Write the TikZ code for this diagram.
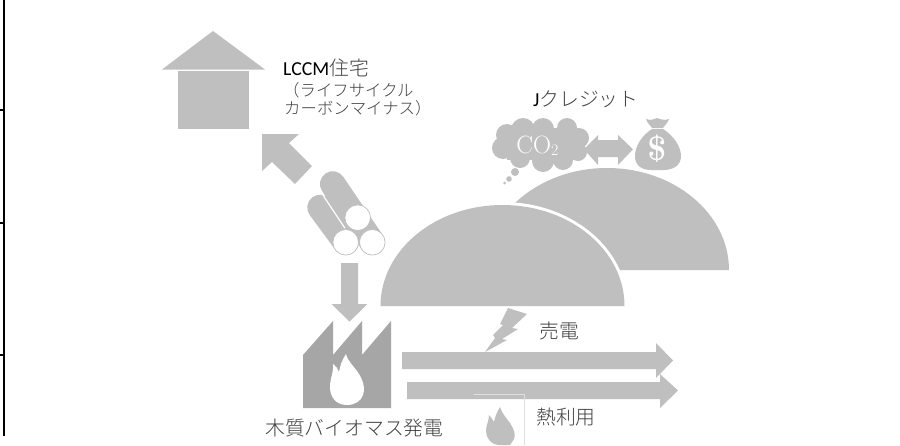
\documentclass[tikz,border=0pt]{standalone}
\usepackage{fontspec}
\setmainfont{Carlito}
\newfontfamily\cjk{Noto Sans CJK JP}[UprightFont=* Light]
\newfontfamily\lm{Latin Modern Roman}
\definecolor{gA}{HTML}{BFBFBF}
\definecolor{gD}{HTML}{A6A6A6}
\definecolor{tx}{HTML}{404040}
\tikzset{
  shp/.style={fill=gA,draw=none},
  lbl/.style={inner sep=0pt,text=tx,font=\cjk\fontsize{19.8}{22}\selectfont},
  lblsm/.style={inner sep=0pt,text=tx,font=\cjk\fontsize{16.4}{18}\selectfont},
  log/.style={line width=25.5pt,line cap=round,draw=gA}
}
\begin{document}
\begin{tikzpicture}[yscale=-1,x=1pt,y=1pt]
\useasboundingbox (0,0) rectangle (900,445);
\fill[white] (0,0) rectangle (900,445);
% left table rule
\fill[black] (3,0) rectangle (5.2,436);
\foreach \yy in {110,223,355} \fill[black] (0,\yy-1) rectangle (4,\yy+1);
% house
\fill[shp] (213,31) -- (265,69.5) -- (162,69.5) -- cycle;
\fill[shp] (178,71) rectangle (249,129);
% diagonal arrow
\fill[shp] (262,134) -- (299,134) -- (289,143) -- (312,166) -- (295,184) -- (272,162) -- (262,171) -- cycle;
% logs
\draw[log] (320,207.5) -- (345.7,242.3);
\draw[log] (332.7,184) -- (372.3,242.3);
\draw[white,line width=1.2pt] (321.7,193.3) -- (345,228.3);
\foreach \cx/\cy in {357.7/217.7,345.7/242.3,372.3/242.3}
  \filldraw[fill=white,draw=gA,line width=.7pt] (\cx,\cy) circle (12.8);
% down arrow
\fill[shp] (341,263) -- (358,263) -- (358,304) -- (367.3,304) -- (349.5,321.7) -- (331.7,304) -- (341,304) -- cycle;
% back dome
\fill[shp] (729,270) arc[start angle=0,end angle=-180,x radius=122,y radius=102] -- cycle;
% front dome: white halo, then the grey fill
\draw[white,line width=6pt] (624.5,306) arc[start angle=0,end angle=-180,x radius=122,y radius=101];
\fill[shp] (624.5,306) arc[start angle=0,end angle=-180,x radius=122,y radius=101] -- cycle;
% cloud
\fill[shp] (507,135) circle (11) (523,130) circle (12) (543,129) circle (11) (567,128) circle (10)
  (579,138) circle (10) (578,152) circle (9) (563,160) circle (10) (543,161) circle (11)
  (520,158) circle (10) (503,148) circle (11);
\fill[shp] (507,128) rectangle (575,160);
\fill[shp] (515,172) circle (4) (509,179) circle (2.8) (504.5,183) circle (1.5);
\node[inner sep=0pt,text=white,font=\lm\fontsize{25}{27}\selectfont] (co2) at (537.5,146) {CO\raisebox{-2.5pt}{\fontsize{16}{18}\selectfont 2}};
% double arrow
\fill[shp] (584,149.3) -- (598,135) -- (598,140) -- (618,140) -- (618,135) -- (633,149.3) -- (618,165) -- (618,157) -- (598,157) -- (598,165) -- cycle;
% money bag
\fill[shp] (646,119) .. controls (651,121) and (654,119) .. (657,118) .. controls (660,119) and (664,121) .. (669,119) .. controls (668,123) and (664,126) .. (663,128) -- (652,128) .. controls (651,126) and (647,123) .. (646,119) -- cycle;
\fill[shp] (652,129) -- (663,129) .. controls (674,136) and (681,147) .. (681,156) .. controls (681,165) and (674,170) .. (663,170) -- (651,170) .. controls (641,170) and (635,165) .. (635,156) .. controls (635,147) and (641,136) .. (652,129) -- cycle;
\node[inner sep=0pt,text=white,font=\lm\bfseries\fontsize{34}{36}\selectfont] (dollar) at (657,149) {\$};
% factory
\fill[gD] (303,408) -- (303,355) -- (333,321) -- (333,355) -- (362,321) -- (362,355) -- (391,321) -- (391,408) -- cycle;
\fill[white] (347,405) .. controls (335,405) and (330,396) .. (330,387) .. controls (330,378) and (334,372) .. (333,364) .. controls (336,366) and (338,369) .. (339,372) .. controls (340,366) and (342,360) .. (346,354) .. controls (348,362) and (354,366) .. (359,374) .. controls (364,382) and (365,390) .. (363,395) .. controls (361,401) and (355,405) .. (347,405) -- cycle;
% bolt
\fill[shp] (508,308) -- (527,314) -- (512,328) -- (518,329) -- (502,339) -- (507,340) -- (485,352) -- (495,338) -- (493,335) -- (503,325) -- (500,324) -- cycle;
% long arrows
\fill[shp] (402,352) -- (656,352) -- (656,343) -- (673,360.5) -- (656,378) -- (656,369) -- (402,369) -- cycle;
\fill[shp] (407,382) -- (660,382) -- (660,374) -- (678,390.5) -- (660,408) -- (660,399) -- (407,399) -- cycle;
% faint frame and small flame
\draw[gray!25,line width=.5pt] (474,394.5) -- (524,394.5) -- (524,445);
\fill[shp] (500,445) .. controls (491,445) and (486,438) .. (486,431) .. controls (486,425) and (489,421) .. (489,415) .. controls (491,417) and (493,420) .. (494,422) .. controls (495,417) and (497,412) .. (500,407) .. controls (502,413) and (506,418) .. (510,423) .. controls (514,429) and (516,435) .. (514,439) -- (510,445) -- cycle;
% labels
\node[lbl,anchor=west] (lccm) at (283,68) {{\rmfamily\color{black}LCCM}住宅};
\node[lblsm,anchor=west] (lc1) at (283,90) {（ライフサイクル};
\node[lblsm,anchor=west] (lc2) at (284,108) {カーボンマイナス）};
\node[lbl,anchor=west] (jcr) at (533,99) {{\rmfamily\color{black}J}クレジット};
\node[lbl,anchor=west] (baiden) at (539,331) {売電};
\node[lbl,anchor=west] (netsu) at (536,417) {熱利用};
\node[lbl,anchor=west] (mokushitsu) at (265,428) {木質バイオマス発電};
\end{tikzpicture}
\end{document}
